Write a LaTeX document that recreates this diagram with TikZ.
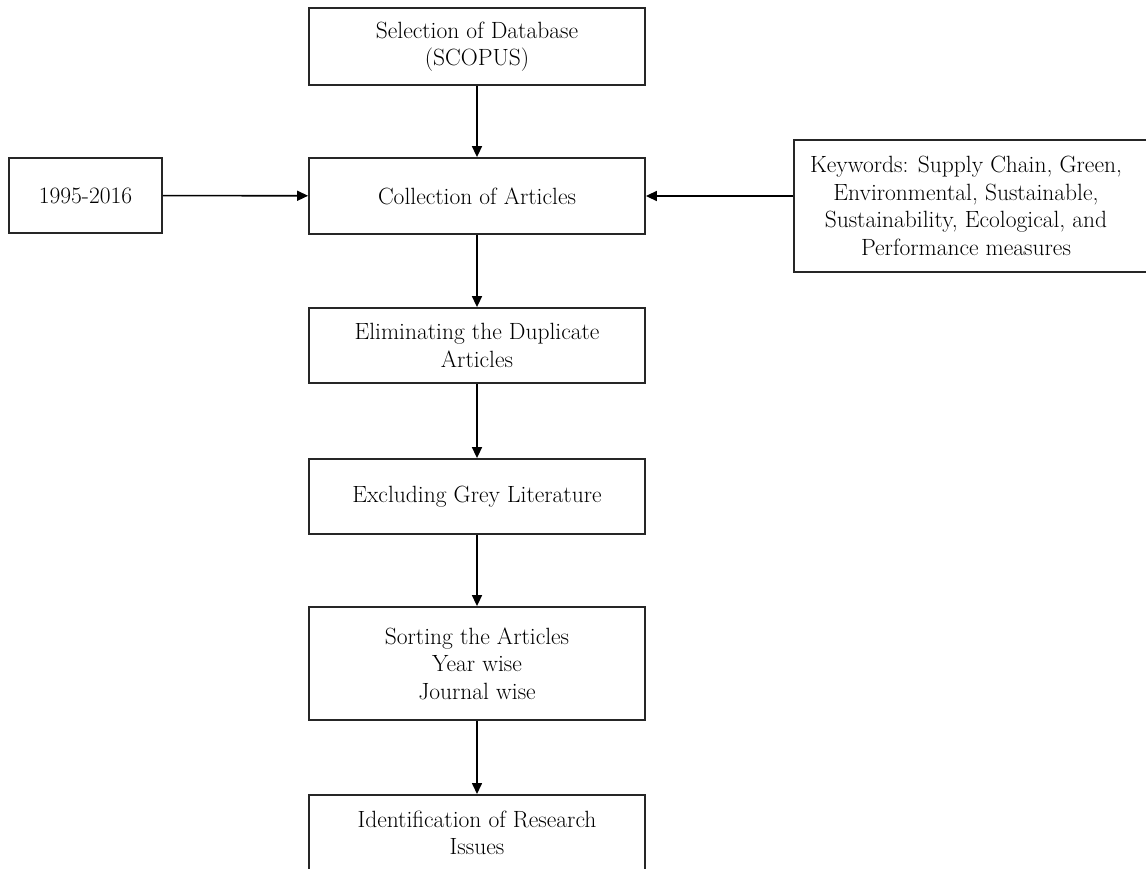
\documentclass[tikz,border=0pt]{standalone}
\usetikzlibrary{arrows.meta}
\begin{document}
\begin{tikzpicture}[x=1pt,y=-1pt,
  box/.style={draw=black!85, line width=1.8pt, fill=white, align=center, inner sep=0pt,
    font=\fontsize{23.5}{27.5}\selectfont},
  arr/.style={-{Triangle[length=11pt,width=10pt]}, line width=1.6pt}]
\useasboundingbox (0,0) rectangle (1146,869);
\clip (0,0) rectangle (1146,869);
\node[box, minimum width=336pt, minimum height=77pt] (sel) at (477,46.5) {Selection of Database\\(SCOPUS)};
\node[box, minimum width=336pt, minimum height=76pt] (col) at (477,196) {Collection of Articles};
\node[box, minimum width=153pt, minimum height=75pt] (yr) at (85.5,195.5) {1995-2016};
\node[box, minimum width=372pt, minimum height=132pt] (kw) at (980,206) {};
\node[font=\fontsize{23.5}{27.5}\selectfont, align=center] (kwtxt) at (966,206) {Keywords: Supply Chain, Green,\\Environmental, Sustainable,\\Sustainability, Ecological, and\\Performance measures};
\node[box, minimum width=336pt, minimum height=75pt] (elim) at (477,345.5) {Eliminating the Duplicate\\Articles};
\node[box, minimum width=336pt, minimum height=75pt] (excl) at (477,496.5) {Excluding Grey Literature};
\node[box, minimum width=336pt, minimum height=113pt] (sort) at (477,663.5) {Sorting the Articles\\Year wise\\Journal wise};
\node[box, minimum width=336pt, minimum height=90pt, anchor=north] (iden) at (477,794) {};
\node[font=\fontsize{23.5}{27.5}\selectfont, align=center] (identxt) at (477,833) {Identification of Research\\Issues};
\draw[arr] (sel) -- (col);
\draw[arr] (col) -- (elim);
\draw[arr] (elim) -- (excl);
\draw[arr] (excl) -- (sort);
\draw[arr] (sort) -- (iden);
\draw[arr] (yr) -- (col);
\draw[arr] (kw.west |- col.east) -- (col.east);
\end{tikzpicture}
\end{document}
